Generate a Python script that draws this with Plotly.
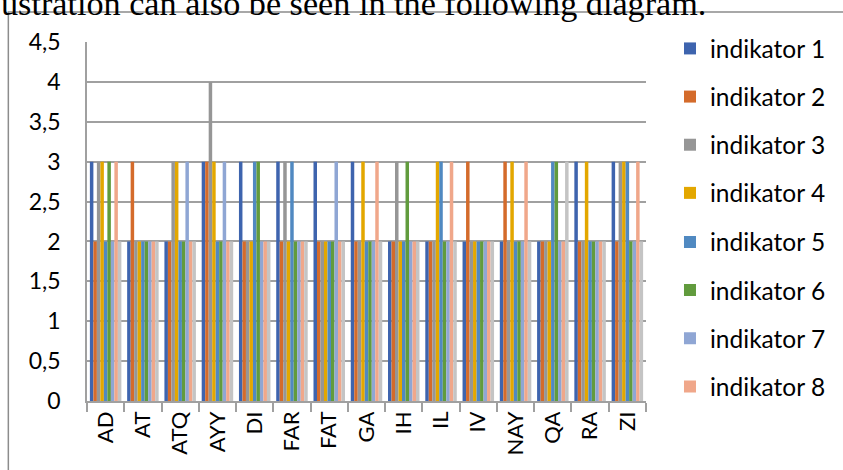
import plotly.graph_objects as go

categories = ["AD", "AT", "ATQ", "AYY", "DI", "FAR", "FAT", "GA", "IH", "IL", "IV", "NAY", "QA", "RA", "ZI"]

indikator_1 = [3, 2, 2, 3, 3, 3, 3, 3, 2, 2, 2, 2, 2, 3, 3]
indikator_2 = [2, 3, 2, 3, 2, 2, 2, 2, 2, 2, 3, 3, 2, 2, 2]
indikator_3 = [3, 2, 3, 4, 2, 3, 2, 2, 3, 2, 2, 2, 2, 2, 3]
indikator_4 = [3, 2, 3, 3, 2, 2, 2, 3, 2, 3, 2, 3, 2, 3, 3]
indikator_5 = [2, 2, 2, 2, 3, 3, 2, 2, 2, 3, 2, 2, 3, 2, 3]
indikator_6 = [3, 2, 2, 2, 3, 2, 2, 2, 3, 2, 2, 2, 3, 2, 2]
indikator_7 = [2, 2, 3, 3, 2, 2, 3, 2, 2, 2, 2, 2, 2, 2, 2]
indikator_8 = [3, 2, 2, 2, 2, 2, 2, 3, 2, 3, 2, 3, 2, 2, 3]
indikator_9 = [2, 2, 2, 2, 2, 2, 2, 2, 2, 2, 2, 2, 3, 2, 2]

series_names = ["indikator 1", "indikator 2", "indikator 3", "indikator 4", "indikator 5",
                "indikator 6", "indikator 7", "indikator 8", "indikator 9"]
series_values = [indikator_1, indikator_2, indikator_3, indikator_4, indikator_5,
                 indikator_6, indikator_7, indikator_8, indikator_9]
colors = ["#3E64AE", "#D46B2B", "#969696", "#E3A700", "#5089C1",
          "#619B3D", "#8FA6D4", "#F0A78A", "#C4C4C4"]

ytick_vals = [0, 0.5, 1, 1.5, 2, 2.5, 3, 3.5, 4, 4.5]
ytick_text = ["0", "0,5", "1", "1,5", "2", "2,5", "3", "3,5", "4", "4,5"]

font_family = "Lato, Carlito, Calibri, sans-serif"

fig = go.Figure()
for i, (name, vals, col) in enumerate(zip(series_names, series_values, colors)):
    fig.add_trace(go.Bar(
        x=categories, y=vals, name=name,
        marker=dict(color=col, line=dict(width=0)),
        legendgroup=name,
        legend="legend" if i < 4 else "legend2",
        showlegend=(i < 8),
    ))

W, H = 843, 470
L, T = 86.7, 42
PW, PH = 559.3, 359
R = W - L - PW
B = H - T - PH


def px_x(x):
    return (x - L) / PW


def px_y(y):
    return (T + PH - y) / PH


legend_common = dict(
    x=px_x(670), xanchor="left", yanchor="top",
    font=dict(family=font_family, size=24.5, color="#000000"),
    tracegroupgap=13.3,
    bgcolor="rgba(0,0,0,0)",
    itemclick=False, itemdoubleclick=False,
)

fig.update_layout(
    width=W, height=H,
    margin=dict(l=L, r=R, t=T, b=B, pad=0),
    paper_bgcolor="white", plot_bgcolor="white",
    barmode="group", bargap=0.155, bargroupgap=0,
    font=dict(family=font_family, size=22, color="#000000"),
    showlegend=True,
    legend=dict(legend_common, y=px_y(26)),
    legend2=dict(legend_common, y=px_y(219.5)),
    xaxis=dict(
        type="category",
        showgrid=False,
        showline=True, linecolor="#A0A0A0", linewidth=1.5,
        ticks="outside", tickson="boundaries", ticklen=9, tickcolor="#A0A0A0", tickwidth=1.5,
        tickangle=-90,
        tickfont=dict(family=font_family, size=22, color="#000000"),
        fixedrange=True,
    ),
    yaxis=dict(
        range=[0, 4.5],
        tickvals=ytick_vals, ticktext=ytick_text,
        showgrid=True, gridcolor="#A0A0A0", gridwidth=1.5,
        showline=True, linecolor="#A0A0A0", linewidth=1.5,
        zeroline=False,
        ticks="", ticklabelstandoff=20,
        tickfont=dict(family=font_family, size=23, color="#000000"),
        fixedrange=True,
    ),
    shapes=[
        dict(type="rect", xref="paper", yref="paper",
             x0=px_x(8), x1=px_x(860), y0=px_y(490), y1=px_y(12),
             line=dict(color="#8C8C8C", width=1.5), fillcolor="rgba(0,0,0,0)", layer="below"),
    ],
    annotations=[
        dict(text="ustration can also be seen in the following diagram.",
             xref="paper", yref="paper", x=px_x(-1), y=px_y(24),
             xanchor="left", yanchor="bottom", showarrow=False,
             font=dict(family="Liberation Serif, Times New Roman, serif", size=34.2, color="#000000")),
    ],
)

fig.write_html("out.html", config={"displayModeBar": False},
               post_script="document.body.style.margin='0px';")
